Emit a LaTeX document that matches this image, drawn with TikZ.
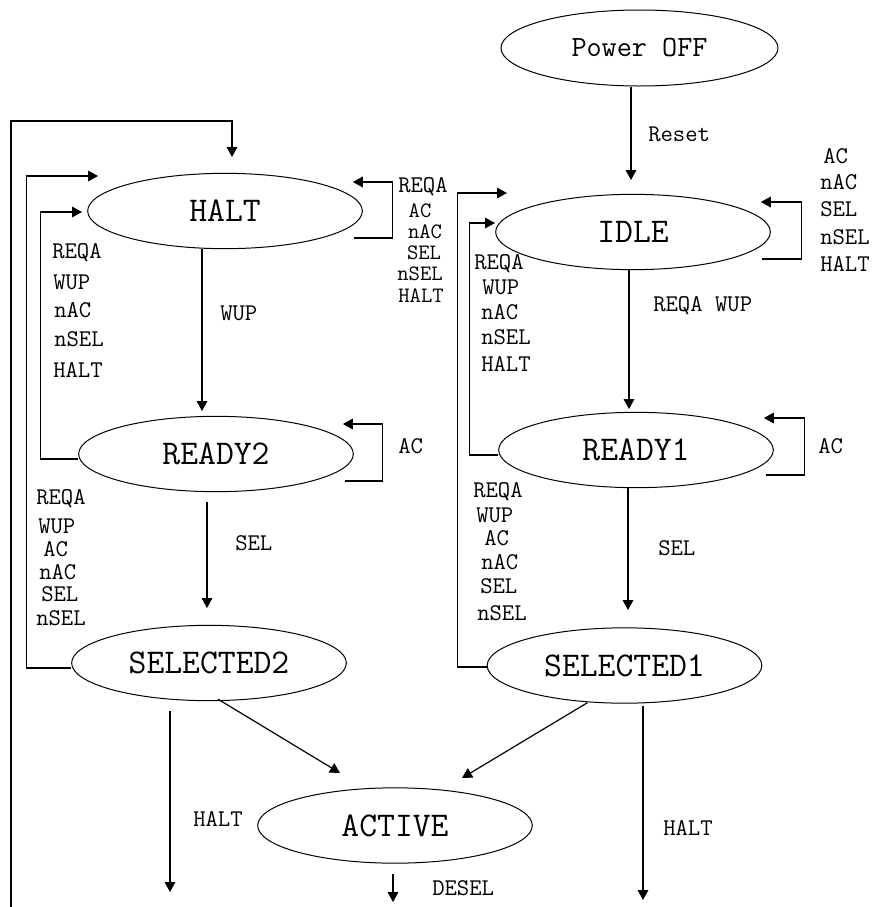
\documentclass[tikz,border=0pt]{standalone}
\usepackage{fontspec}
\usetikzlibrary{shapes.geometric,arrows.meta,calc}
\tikzset{
  state/.style={ellipse, draw, line width=0.75pt, minimum width=206pt, minimum height=56.5pt, inner sep=0pt,
    font=\fontsize{26}{28}\selectfont\ttfamily},
  conn/.style={line width=0.9pt, -{Triangle[length=7.5pt,width=8pt]}},
  lbl/.style={inner sep=0pt, anchor=west, font=\fontsize{18}{20}\selectfont\ttfamily},
  lblc/.style={inner sep=0pt, anchor=center, font=\fontsize{16.5}{18}\selectfont\ttfamily}
}
\begin{document}
\begin{tikzpicture}[x=0.75pt,y=-0.75pt]
\useasboundingbox (0,0) rectangle (874,907);
% states
\node[state, minimum width=207.75pt, minimum height=57pt, font=\fontsize{22}{24}\selectfont\ttfamily] (pwr) at (639.5,48) {Power OFF};
\node[state] (halt) at (225,211) {HALT};
\node[state] (idle) at (633,232) {IDLE};
\node[state] (ready2) at (216,454) {READY2};
\node[state] (ready1) at (636,450) {READY1};
\node[state] (sel2) at (209,663) {SELECTED2};
\node[state] (sel1) at (624.5,665.5) {SELECTED1};
\node[state] (active) at (395,825.5) {ACTIVE};

% free end points
\coordinate (v1) at (631,180);
\coordinate (v2) at (202,411);
\coordinate (v3) at (629,409);
\coordinate (v4) at (207,608);
\coordinate (v5) at (628,610);
\coordinate (a1) at (340,773);
\coordinate (a2) at (462,778);
\coordinate (d1) at (170,892);
\coordinate (d2) at (643,900);
\coordinate (d3) at (393,902);
\coordinate (hin1) at (82,212);
\coordinate (hin2) at (98,176);
\coordinate (hin3) at (232,157);
\coordinate (bot) at (11,907);
\coordinate (iin1) at (495,223);
\coordinate (iin2) at (507,193);

% main transitions
\draw[conn] (pwr.south -| v1) -- (v1);
\draw[conn] (halt.south -| v2) -- (v2);
\draw[conn] (idle.south -| v3) -- (v3);
\draw[conn] ($(ready2.south -| v4)+(0,10)$) -- (v4);
\draw[conn] (ready1.south -| v5) -- (v5);
\draw[conn] ($(sel2.south)+(9,-2)$) -- (a1);
\draw[conn] ($(sel1.south)+(-37,-1)$) -- (a2);
\draw[conn] ($(sel2.south)+(-39,10)$) -- (d1);
\draw[conn] ($(sel1.south)+(18.5,2)$) -- (d2);
\draw[conn] ($(active.south)+(-2,10)$) -- (d3);

% self loops
\draw[conn] ($(halt.east)+(-9,27)$) -| ($(halt.east)+(30,-29)$) -- ($(halt.east)+(-10,-29)$);
\draw[conn] ($(ready2.east)+(-9,27)$) -| ($(ready2.east)+(29,-30)$) -- ($(ready2.east)+(-11,-30)$);
\draw[conn] ($(idle.east)+(-9,27)$) -| ($(idle.east)+(31,-30)$) -- ($(idle.east)+(-10,-30)$);
\draw[conn] ($(ready1.east)+(-8,25)$) -| ($(ready1.east)+(31,-32)$) -- ($(ready1.east)+(-10,-32)$);

% return loops
\draw[conn] ($(ready2.west)+(0,5)$) -- ++(-38,0) |- (hin1);
\draw[conn] ($(sel2.west)+(0,5)$) -- ++(-45,0) |- (hin2);
\draw[conn] (bot) |- ($(hin3)+(0,-36)$) -- (hin3);
\draw[conn] ($(ready1.west)+(0,5)$) -- ++(-29,0) |- (iin1);
\draw[conn] ($(sel1.west)+(0,1.5)$) -- ++(-29,0) |- (iin2);

% labels
\node[lbl] (reset) at (648,134) {Reset};
\node[lbl] (rw) at (653,306) {REQA WUP};
\node[lbl] (wup1) at (220,313) {WUP};
\node[lbl] (sell) at (235,543) {SEL};
\node[lbl] (selr) at (658,548) {SEL};
\node[lbl] (acl) at (398,446) {AC};
\node[lbl] (acr) at (818,446) {AC};
\node[lbl] (haltl) at (193,819) {HALT};
\node[lbl] (haltr) at (663,828) {HALT};
\node[lbl] (desel) at (432,888) {DESEL};

% HALT left stack
\node[lbl] (hl1) at (52,253) {REQA};
\node[lbl] (hl2) at (53,282) {WUP};
\node[lbl] (hl3) at (54,310) {nAC};
\node[lbl] (hl4) at (54,339) {nSEL};
\node[lbl] (hl5) at (53,370) {HALT};

% HALT right stack
\node[lbl] (hr1) at (398,187) {REQA};
\node[lblc] (hr2) at (420,211) {AC};
\node[lblc] (hr3) at (425,232) {nAC};
\node[lblc] (hr4) at (424,253) {SEL};
\node[lblc] (hr5) at (420,274) {nSEL};
\node[lblc] (hr6) at (421,296) {HALT};

% IDLE right stack
\node[lbl] (ir1) at (823,156) {AC};
\node[lbl] (ir2) at (820,182) {nAC};
\node[lbl] (ir3) at (820,209) {SEL};
\node[lbl] (ir4) at (820,237) {nSEL};
\node[lbl] (ir5) at (820,264) {HALT};

% IDLE left stack
\node[lbl] (il1) at (474,264) {REQA};
\node[lbl] (il2) at (482,287) {WUP};
\node[lbl] (il3) at (481,312) {nAC};
\node[lbl] (il4) at (481,337) {nSEL};
\node[lbl] (il5) at (481,364) {HALT};

% READY2 left stack
\node[lbl] (rl1) at (36,499) {REQA};
\node[lbl] (rl2) at (38,526) {WUP};
\node[lbl] (rl3) at (43,549) {AC};
\node[lbl] (rl4) at (39,572) {nAC};
\node[lbl] (rl5) at (41,594) {SEL};
\node[lbl] (rl6) at (36,618) {nSEL};

% READY1 left stack
\node[lbl] (ql1) at (473,492) {REQA};
\node[lbl] (ql2) at (476,515) {WUP};
\node[lbl] (ql3) at (484,538) {AC};
\node[lbl] (ql4) at (481,562) {nAC};
\node[lbl] (ql5) at (480,586) {SEL};
\node[lbl] (ql6) at (477,613) {nSEL};
\end{tikzpicture}
\end{document}
